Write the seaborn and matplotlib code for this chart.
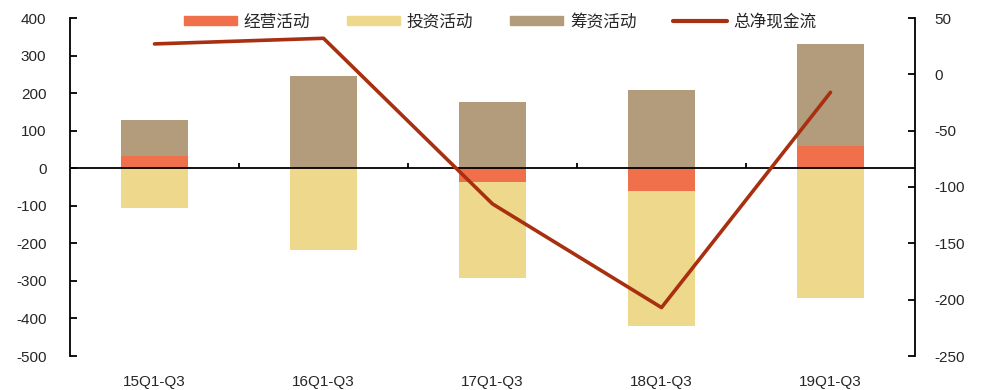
import matplotlib
matplotlib.use("Agg")
import matplotlib.pyplot as plt
import seaborn as sns
import numpy as np
from matplotlib.patches import Patch
from matplotlib.lines import Line2D

categories = ["15Q1-Q3", "16Q1-Q3", "17Q1-Q3", "18Q1-Q3", "19Q1-Q3"]
operating = [33, 2, -37, -61, 59]
investing = [-106, -218, -256, -359, -346]
financing = [95, 243, 176, 208, 271]
net_flow = [27, 32, -115, -207, -16]

c_op = "#F0704C"
c_inv = "#EED88C"
c_fin = "#B39C7C"
c_net = "#A83010"

sns.set_theme(style="white")
plt.rcParams["font.family"] = ["Liberation Sans", "Noto Sans CJK SC", "DejaVu Sans"]
plt.rcParams["axes.unicode_minus"] = False

fig = plt.figure(figsize=(9.84, 3.9), dpi=100)
ax = fig.add_axes([70/984, 1-356/390, (915-70)/984, (356-18)/390])

op_pos = [max(v, 0) for v in operating]
op_neg = [min(v, 0) for v in operating]

sns.barplot(x=categories, y=financing, bottom=op_pos, color=c_fin, width=0.4,
            saturation=1, ax=ax, linewidth=0)
sns.barplot(x=categories, y=investing, bottom=op_neg, color=c_inv, width=0.4,
            saturation=1, ax=ax, linewidth=0)
sns.barplot(x=categories, y=operating, color=c_op, width=0.4,
            saturation=1, ax=ax, linewidth=0)

ax.set_ylim(-500, 400)
ax.set_yticks(np.arange(-500, 401, 100))
ax.set_xlim(-0.5, len(categories) - 0.5)
ax.axhline(0, color="black", lw=1.3, zorder=3)
bounds = np.arange(0.5, len(categories) - 0.5, 1.0)
ax.vlines(bounds, 0, 14, color="black", lw=1.3, zorder=3)

for s in ["top", "bottom", "right"]:
    ax.spines[s].set_visible(False)
ax.spines["left"].set_color("black")
ax.spines["left"].set_linewidth(1.3)
ax.tick_params(axis="y", direction="in", length=5, width=1.3, color="black",
               labelsize=11, pad=17, left=True)
ax.tick_params(axis="x", length=0, labelsize=11, pad=14)
ax.set_xlabel("")
ax.set_ylabel("")

ax2 = ax.twinx()
sns.lineplot(x=np.arange(len(categories)), y=net_flow, color=c_net, lw=2.6,
             ax=ax2, sort=False)
ax2.set_ylim(-250, 50)
ax2.set_yticks(np.arange(-250, 51, 50))
for s in ["top", "bottom", "left"]:
    ax2.spines[s].set_visible(False)
ax2.spines["right"].set_color("black")
ax2.spines["right"].set_linewidth(1.3)
ax2.tick_params(axis="y", direction="in", length=5, width=1.3, color="black",
                labelsize=11, pad=14, right=True)
ax2.set_ylabel("")
ax2.grid(False)
ax.grid(False)

handles = [Patch(color=c_op), Patch(color=c_inv), Patch(color=c_fin),
           Line2D([0], [0], color=c_net, lw=3)]
labels = ["经营活动", "投资活动", "筹资活动", "总净现金流"]
fig.legend(handles, labels, loc="center", bbox_to_anchor=(500/984, 1-22/390),
           ncol=4, frameon=False, handlelength=3.2, handleheight=0.5,
           handletextpad=0.4, columnspacing=2.2,
           prop={"family": ["Noto Sans CJK SC", "DejaVu Sans"], "size": 12})

fig.savefig("out.png", dpi=100)
